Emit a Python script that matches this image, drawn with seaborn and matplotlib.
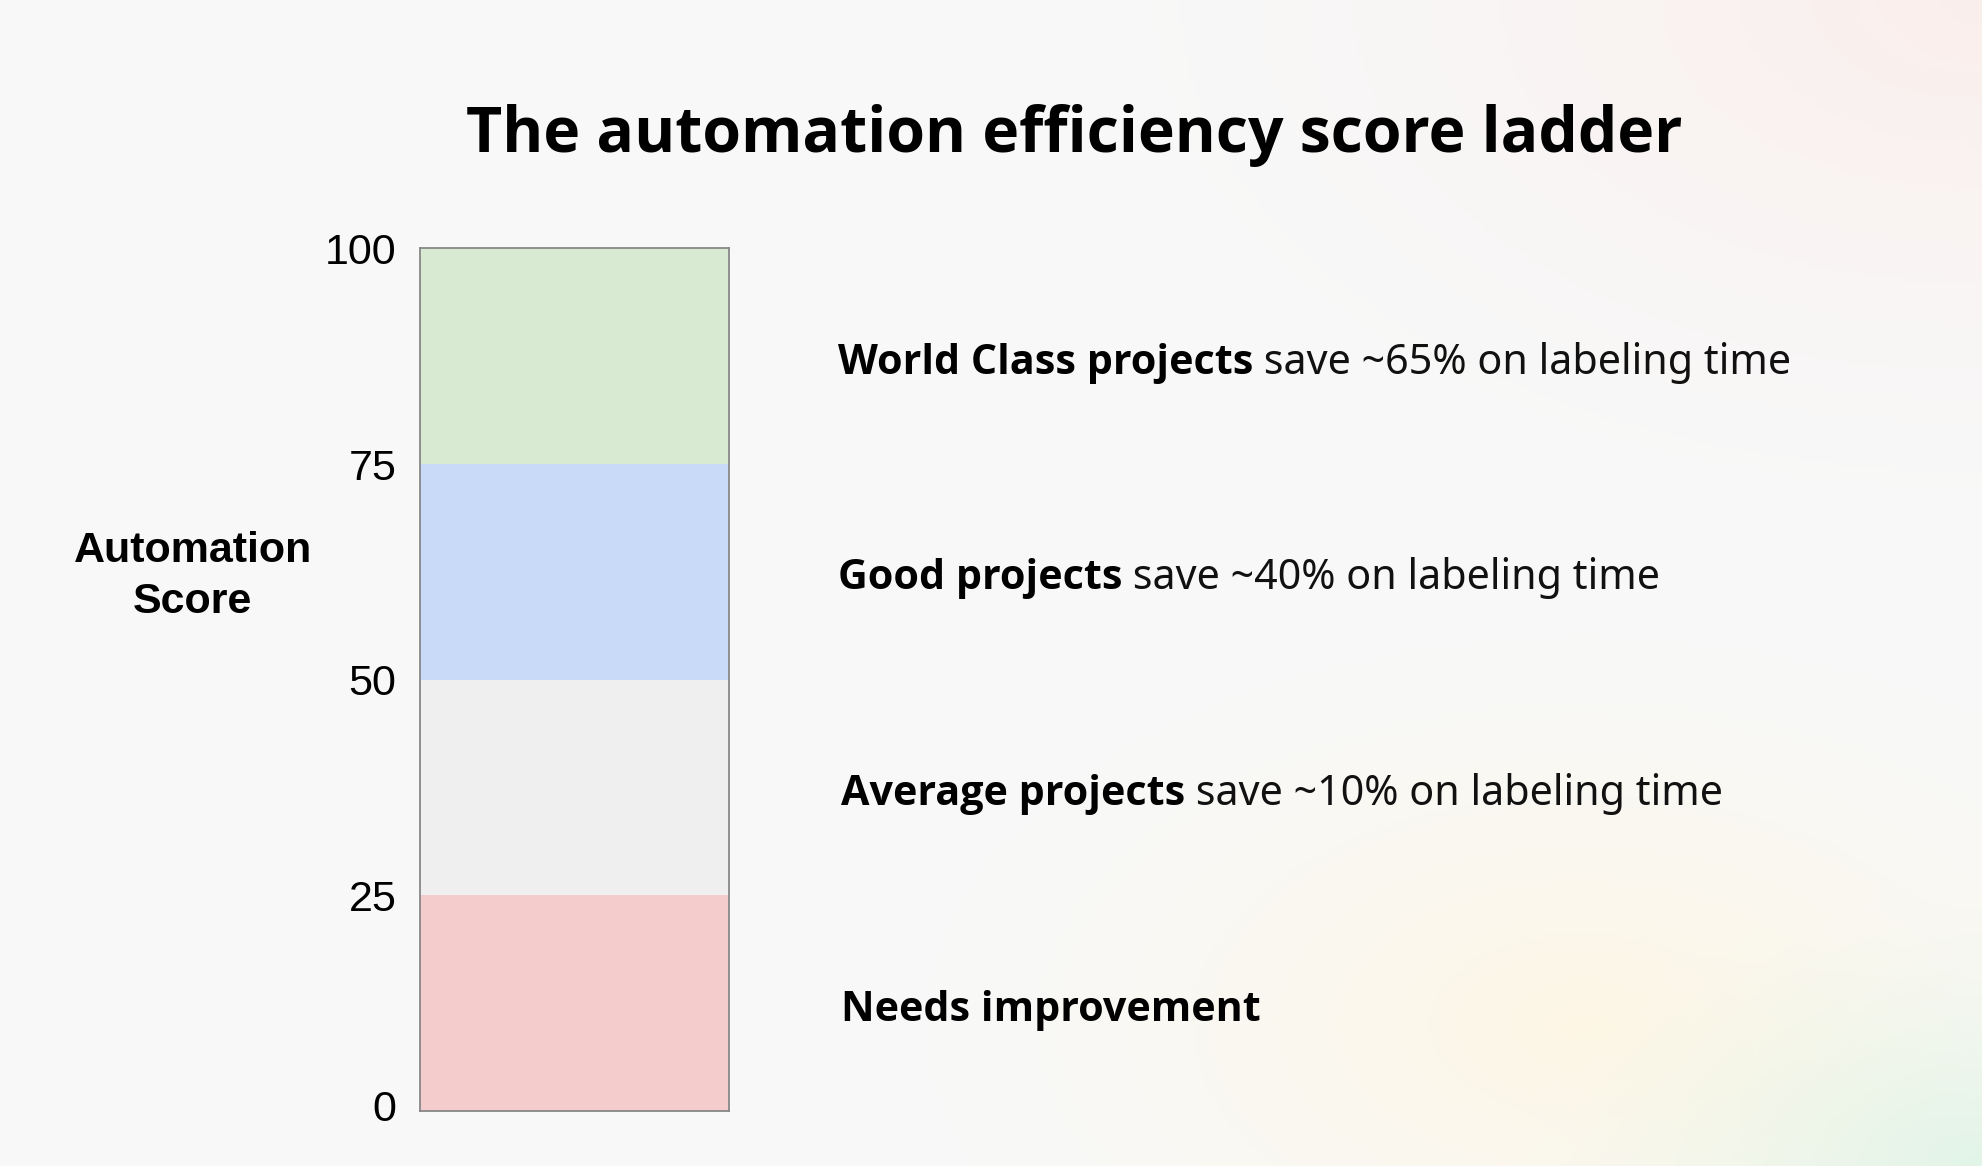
import numpy as np
import pandas as pd
import matplotlib
matplotlib.use("Agg")
import matplotlib.pyplot as plt
import matplotlib.transforms as mtransforms
import seaborn as sns

# score bands of the ladder (lower bound, upper bound)
band_low = [0, 25, 50, 75]
band_high = [25, 50, 75, 100]
band_colors = ["#f4cccc", "#efefef", "#c9daf8", "#d9ead3"]
band_bold = ["Needs improvement", "Average projects", "Good projects", "World Class projects"]
band_rest = ["", " save ~10% on labeling time", " save ~40% on labeling time",
             " save ~65% on labeling time"]
y_ticks = [0, 25, 50, 75, 100]

sns.set_theme(style="white")
plt.rcParams["font.family"] = ["Liberation Sans", "DejaVu Sans"]
plt.rcParams["text.color"] = "black"

fig = plt.figure(figsize=(19.82, 11.66), dpi=100)

# soft gradient backdrop
bg = fig.add_axes([0, 0, 1, 1], zorder=-10)
h, w = 240, 400
yy, xx = np.mgrid[0:1:h * 1j, 0:1:w * 1j]
base = np.array([0.973, 0.976, 0.976])
img = np.ones((h, w, 3)) * base
def blob(cx, cy, r, col, strength):
    d = np.sqrt(((xx - cx) / r) ** 2 + ((yy - cy) / r) ** 2)
    a = np.clip(1 - d, 0, 1) ** 1.5 * strength
    return a[..., None] * (np.array(col) - base)
img += blob(1.0, 0.0, 0.5, [0.982, 0.935, 0.925], 1.0)
img += blob(0.80, 0.88, 0.38, [0.995, 0.965, 0.895], 0.95)
img += blob(1.0, 1.0, 0.24, [0.88, 0.96, 0.93], 1.0)
bg.imshow(np.clip(img, 0, 1), extent=[0, 1, 0, 1], aspect="auto", origin="upper")
bg.axis("off")

ax = fig.add_axes([0.212, 0.047, 0.156, 0.740])
ax.set_facecolor("none")

# stacked ladder: draw tallest band first so lower bands sit on top
for lo, hi, col in sorted(zip(band_low, band_high, band_colors), key=lambda t: -t[1]):
    df = pd.DataFrame({"bar": ["score"], "top": [hi]})
    sns.barplot(data=df, x="bar", y="top", color=col, width=1.0,
                saturation=1, linewidth=0, ax=ax)

ax.set_xlim(-0.5, 0.5)
ax.set_ylim(0, 100)
ax.set_xticks([])
ax.set_yticks(y_ticks)
ax.set_yticklabels([str(t) for t in y_ticks], fontsize=31)
ax.tick_params(axis="y", length=0, pad=17, colors="black")
# the bottom label sits a little above the axis floor
lab0 = ax.get_yticklabels()[0]
lab0.set_transform(lab0.get_transform()
                   + mtransforms.ScaledTranslation(0, 0.06, fig.dpi_scale_trans))
ax.set_xlabel("")
for s in ax.spines.values():
    s.set_visible(True)
    s.set_color("#888888")
    s.set_linewidth(1.3)

ax.set_ylabel("Automation\nScore", rotation=0, fontsize=31, fontweight="bold",
              ha="center", va="center", linespacing=1.35, color="black")
ax.yaxis.set_label_coords(-0.735, 0.62)

# band descriptions to the right
trans = mtransforms.blended_transform_factory(ax.transAxes, ax.transData)
bold_font = ["Open Sans", "Roboto", "DejaVu Sans"]
text_font = ["Noto Sans", "DejaVu Sans"]
for lo, hi, bold, rest in zip(band_low, band_high, band_bold, band_rest):
    mid = (lo + hi) / 2 - 0.8
    t = ax.text(1.35 if hi > 50 else 1.36, mid, bold, transform=trans, fontsize=29.7,
                fontweight="bold", family=bold_font, va="center", ha="left",
                color="black")
    if rest:
        ax.annotate(rest, xy=(1, 0), xycoords=t, va="bottom", ha="left",
                    fontsize=29.7, family=text_font, color="#111111")

fig.text(0.542, 0.884, "The automation efficiency score ladder", fontsize=45,
         fontweight="bold", family=bold_font, ha="center", va="center",
         color="black")

fig.savefig("out.png", dpi=100)
